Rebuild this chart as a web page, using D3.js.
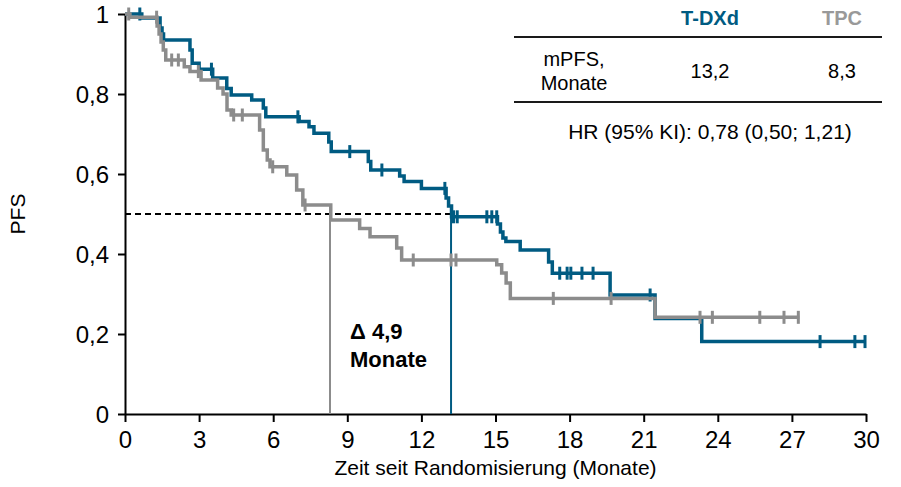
<!DOCTYPE html>
<html>
<head>
<meta charset="utf-8">
<script src="https://cdn.jsdelivr.net/npm/d3@7"></script>
<style>
  html, body { margin: 0; padding: 0; background: #fff; }
  svg text { font-family: "Liberation Sans", Arial, sans-serif; }
</style>
</head>
<body>
<svg id="chart" width="901" height="487"></svg>
<script>
// Kaplan-Meier steps: [month, PFS after the event]
const tdxdSteps = [[0,1],[0.68,0.99],[1.42,0.965],[1.5,0.95],[1.56,0.935],[2.63,0.91],[2.72,0.877],
  [3.0,0.862],[3.55,0.84],[4.12,0.814],[4.3,0.7975],[5.13,0.785],[5.6,0.765],[5.7,0.743],[7.05,0.731],
  [7.45,0.718],[7.65,0.702],[8.25,0.68],[8.35,0.656],[9.85,0.631],[9.95,0.61],[11.12,0.595],[11.3,0.581],
  [12.0,0.564],[13.0,0.54],[13.1,0.52],[13.22,0.493],[15.08,0.475],[15.2,0.455],[15.3,0.44],[15.42,0.431],
  [16.0,0.41],[17.15,0.38],[17.3,0.352],[19.64,0.2975],[21.46,0.239],[23.35,0.181]];
const tdxdEnd = 29.96;
const tdxdCensored = [0.6,3.5,7.0,9.1,10.4,12.95,13.3,13.45,14.65,14.85,15.05,17.6,17.9,18.05,18.5,18.95,
  21.26,28.14,29.55,29.96];

const tpcSteps = [[0,1],[0.2,0.992],[1.3,0.97],[1.38,0.95],[1.46,0.93],[1.55,0.91],[1.65,0.885],[2.4,0.868],
  [2.63,0.856],[3.08,0.835],[3.75,0.815],[3.97,0.8],[4.13,0.76],[4.3,0.7475],[5.45,0.71],[5.6,0.66],
  [5.76,0.635],[5.87,0.618],[6.55,0.5975],[6.95,0.56],[7.2,0.5225],[8.33,0.485],[9.5,0.464],[9.92,0.443],
  [11.0,0.415],[11.2,0.385],[15.05,0.373],[15.25,0.3525],[15.43,0.3275],[15.6,0.289],[21.46,0.2417]];
const tpcEnd = 27.3;
const tpcCensored = [0.15,1.28,1.89,2.16,2.97,4.4,4.75,5.98,7.29,11.67,13.2,13.4,17.34,19.68,23.28,23.78,
  25.7,26.68,27.26];

const medians = { tdxd: 13.2, tpc: 8.3 };
const xTicks = [0,3,6,9,12,15,18,21,24,27,30];
const yTicks = [0,0.2,0.4,0.6,0.8,1];
const tableHead = ["T-DXd", "TPC"];
const tableRowLabel = ["mPFS,", "Monate"];
const tableValues = ["13,2", "8,3"];
const hrText = "HR (95% KI): 0,78 (0,50; 1,21)";
const deltaText = ["\u0394 4,9", "Monate"];

const BLUE = "#005b82", GREY = "#8c8c8c";

const svg = d3.select("#chart");
const x = d3.scaleLinear().domain([0, 30]).range([125, 866]);
const y = d3.scaleLinear().domain([0, 1]).range([414, 14]);
const fmt = d => d3.format(".1~f")(d).replace(".", ",");

// axes
const gx = svg.append("g").attr("transform", `translate(0,${y(0)})`)
  .call(d3.axisBottom(x).tickValues(xTicks).tickSize(8).tickSizeOuter(0).tickPadding(9).tickFormat(d => d));
const gy = svg.append("g").attr("transform", `translate(${x(0)},0)`)
  .call(d3.axisLeft(y).tickValues(yTicks).tickSize(7).tickSizeOuter(0).tickPadding(9).tickFormat(fmt));
[gx, gy].forEach(g => {
  g.selectAll("path, line").attr("stroke", "#000").attr("stroke-width", 2);
  g.selectAll("text").attr("fill", "#000").style("font-size", "24px")
    .style("font-family", "'Liberation Sans', Arial, sans-serif");
});
gy.selectAll("text").attr("dy", "0.36em");

svg.append("text").attr("x", (x(0) + x(30)) / 2).attr("y", 475).attr("text-anchor", "middle")
  .style("font-size", "21px").text("Zeit seit Randomisierung (Monate)");
svg.append("text").attr("transform", `translate(25,${y(0.5)}) rotate(-90)`).attr("text-anchor", "middle")
  .style("font-size", "21px").text("PFS");

// median reference lines
svg.append("line").attr("x1", x(0)).attr("x2", x(medians.tdxd)).attr("y1", y(0.5)).attr("y2", y(0.5))
  .attr("stroke", "#000").attr("stroke-width", 2).attr("stroke-dasharray", "6,4");
svg.append("line").attr("x1", x(medians.tpc)).attr("x2", x(medians.tpc)).attr("y1", y(0.5)).attr("y2", y(0))
  .attr("stroke", GREY).attr("stroke-width", 2);
svg.append("line").attr("x1", x(medians.tdxd)).attr("x2", x(medians.tdxd)).attr("y1", y(0.5)).attr("y2", y(0))
  .attr("stroke", BLUE).attr("stroke-width", 2);

// survival curves
const line = d3.line().x(d => x(d[0])).y(d => y(d[1])).curve(d3.curveStepAfter);
function survAt(steps, t) {
  let s = steps[0][1];
  for (const [tt, v] of steps) if (tt <= t) s = v;
  return s;
}
function drawArm(steps, end, censored, color) {
  const pts = steps.concat([[end, steps[steps.length - 1][1]]]);
  svg.append("path").datum(pts).attr("d", line).attr("fill", "none")
    .attr("stroke", color).attr("stroke-width", 3.5).attr("stroke-linejoin", "miter");
  svg.append("g").selectAll("line").data(censored).join("line")
    .attr("x1", d => x(d)).attr("x2", d => x(d))
    .attr("y1", d => y(survAt(steps, d)) - 6.5).attr("y2", d => y(survAt(steps, d)) + 6.5)
    .attr("stroke", color).attr("stroke-width", 3);
}
drawArm(tdxdSteps, tdxdEnd, tdxdCensored, BLUE);
drawArm(tpcSteps, tpcEnd, tpcCensored, GREY);

// delta annotation
svg.append("text").attr("x", 350).attr("y", 339).style("font-size", "22px").style("font-weight", "bold")
  .text(deltaText[0]);
svg.append("text").attr("x", 350).attr("y", 367).style("font-size", "22px").style("font-weight", "bold")
  .text(deltaText[1]);

// summary table
const colX = [710, 842];
svg.selectAll("text.head").data(tableHead).join("text").attr("class", "head")
  .attr("x", (d, i) => colX[i]).attr("y", 25).attr("text-anchor", "middle")
  .style("font-size", "20px").style("font-weight", "bold")
  .attr("fill", (d, i) => i === 0 ? BLUE : "#999").text(d => d);
[37, 102].forEach(yy => svg.append("line").attr("x1", 514).attr("x2", 882).attr("y1", yy).attr("y2", yy)
  .attr("stroke", "#1a1a1a").attr("stroke-width", 2));
svg.selectAll("text.rowlab").data(tableRowLabel).join("text").attr("class", "rowlab")
  .attr("x", 574).attr("y", (d, i) => 66 + i * 24).attr("text-anchor", "middle")
  .style("font-size", "20px").attr("fill", "#000").text(d => d);
svg.selectAll("text.val").data(tableValues).join("text").attr("class", "val")
  .attr("x", (d, i) => colX[i]).attr("y", 78).attr("text-anchor", "middle")
  .style("font-size", "20px").attr("fill", "#000").text(d => d);
svg.append("text").attr("x", 710).attr("y", 139).attr("text-anchor", "middle")
  .style("font-size", "21px").attr("fill", "#000").text(hrText);
</script>
</body>
</html>
